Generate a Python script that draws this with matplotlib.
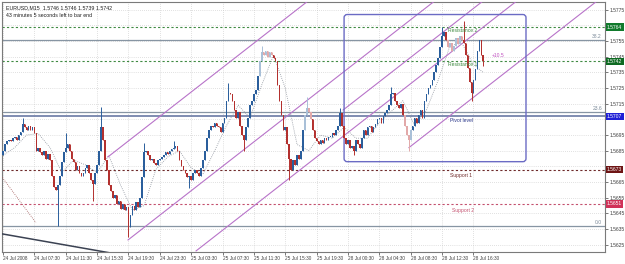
import matplotlib.pyplot as plt
from matplotlib.patches import FancyBboxPatch
import matplotlib.transforms as mtransforms

plt.rcParams['font.family'] = ['Liberation Sans', 'DejaVu Sans']

# EURUSD M15 closes, one per bar (open = previous close)
first_open = 1.5682
closes = [
    1.5685, 1.5689, 1.5691, 1.5692, 1.5691, 1.5693, 1.5694, 1.5692, 1.5695, 1.5697,
    1.5702, 1.5700, 1.5698, 1.5701, 1.5698, 1.5700, 1.5696, 1.5685, 1.5687, 1.5684,
    1.5682, 1.5685, 1.5680, 1.5683, 1.5679, 1.5669, 1.5662, 1.5660, 1.5663, 1.5669,
    1.5678, 1.5684, 1.5687, 1.5689, 1.5685, 1.5680, 1.5678, 1.5673, 1.5675, 1.5671,
    1.5669, 1.5671, 1.5674, 1.5676, 1.5671, 1.5666, 1.5664, 1.5671, 1.5676, 1.5685,
    1.5700, 1.5692, 1.5679, 1.5673, 1.5663, 1.5659, 1.5655, 1.5657, 1.5651, 1.5653,
    1.5648, 1.5651, 1.5647, 1.5649, 1.5636, 1.5644, 1.5650, 1.5647, 1.5652, 1.5649,
    1.5655, 1.5668, 1.5684, 1.5685, 1.5682, 1.5679, 1.5680, 1.5677, 1.5676, 1.5679,
    1.5680, 1.5681, 1.5682, 1.5684, 1.5683, 1.5685, 1.5686, 1.5687, 1.5688, 1.5685,
    1.5679, 1.5675, 1.5673, 1.5671, 1.5668, 1.5669, 1.5666, 1.5671, 1.5673, 1.5671,
    1.5669, 1.5674, 1.5679, 1.5685, 1.5693, 1.5698, 1.5701, 1.5700, 1.5703, 1.5701,
    1.5700, 1.5697, 1.5703, 1.5706, 1.5717, 1.5722, 1.5721, 1.5717, 1.5711, 1.5706,
    1.5710, 1.5701, 1.5695, 1.5692, 1.5700, 1.5706, 1.5714, 1.5717, 1.5721, 1.5724,
    1.5733, 1.5742, 1.5748, 1.5746, 1.5749, 1.5745, 1.5748, 1.5746, 1.5744, 1.5742,
    1.5727, 1.5717, 1.5708, 1.5698, 1.5700, 1.5689, 1.5680, 1.5673, 1.5679, 1.5676,
    1.5682, 1.5680, 1.5685, 1.5698, 1.5708, 1.5712, 1.5710, 1.5705, 1.5698, 1.5693,
    1.5691, 1.5689, 1.5692, 1.5690, 1.5693, 1.5692, 1.5694, 1.5694, 1.5696, 1.5695,
    1.5698, 1.5701, 1.5709, 1.5701, 1.5693, 1.5689, 1.5692, 1.5687, 1.5688, 1.5685,
    1.5692, 1.5689, 1.5687, 1.5693, 1.5698, 1.5695, 1.5700, 1.5701, 1.5697, 1.5700,
    1.5702, 1.5705, 1.5706, 1.5703, 1.5707, 1.5709, 1.5711, 1.5714, 1.5721, 1.5722,
    1.5717, 1.5714, 1.5712, 1.5715, 1.5708, 1.5701, 1.5695, 1.5692, 1.5698, 1.5701,
    1.5706, 1.5703, 1.5708, 1.5711, 1.5706, 1.5717, 1.5721, 1.5725, 1.5727, 1.5730,
    1.5735, 1.5740, 1.5744, 1.5751, 1.5758, 1.5761, 1.5756, 1.5751, 1.5754, 1.5749,
    1.5752, 1.5757, 1.5753, 1.5758, 1.5756, 1.5754, 1.5746, 1.5738, 1.5729, 1.5722,
    1.5730, 1.5737, 1.5749, 1.5756, 1.5746, 1.5742,
]

# bars with visible wicks beyond the body
high_idx = [10, 32, 50, 72, 87, 115, 132, 155, 172, 198, 224, 235]
high_val = [1.5706, 1.5696, 1.5713, 1.5690, 1.5691, 1.5728, 1.5752, 1.5719, 1.5712, 1.5726, 1.5764, 1.5768]
low_idx = [28, 46, 64, 95, 123, 146, 179, 207, 239, 245]
low_val = [1.5637, 1.5653, 1.5630, 1.5661, 1.5685, 1.5666, 1.5682, 1.5685, 1.5717, 1.5739]
pale_idx = [131, 132, 133, 134, 135, 136, 137, 154, 155, 156, 157, 205, 206, 207, 208,
            227, 228, 229, 230, 231, 232, 233, 234]

# dotted moving average
ma_idx = list(range(0, 241, 6)) + [245]
ma_val = [1.5682, 1.5687, 1.5695, 1.5696, 1.5687, 1.5671, 1.5679, 1.5676, 1.5671, 1.5682,
          1.5663, 1.5647, 1.5650, 1.5673, 1.5681, 1.5685, 1.5674, 1.5670, 1.5685, 1.5701,
          1.5714, 1.5706, 1.5727, 1.5746, 1.5725, 1.5689, 1.5685, 1.5695, 1.5693, 1.5700,
          1.5693, 1.5693, 1.5703, 1.5710, 1.5717, 1.5701, 1.5711, 1.5730, 1.5752, 1.5754,
          1.5740, 1.5735]

# parallel channel lines (start bar, start price), common slope per bar
chan_bar = [53.5, 63.8, 98.5, 173.5, 207.1]
chan_price = [1.5681, 1.5628, 1.5621, 1.5711, 1.5687]
chan_slope = 0.0000976

# horizontal levels
res2, res1, pivot, sup1, sup2 = 1.5764, 1.5742, 1.5707, 1.5673, 1.5651
fib_vals = [1.5756, 1.5710, 1.5637]
fib_names = ['38.2', '23.6', '0.0']

# box (bars, prices)
box_bars = [174, 266.8]
box_prices = [1.5678, 1.5772]

time_labels = ['24 Jul 2008', '24 Jul 07:30', '24 Jul 11:30', '24 Jul 15:30', '24 Jul 19:30',
               '24 Jul 23:30', '25 Jul 03:30', '25 Jul 07:30', '25 Jul 11:30', '25 Jul 15:30',
               '25 Jul 19:30', '28 Jul 00:30', '28 Jul 04:30', '28 Jul 08:30', '28 Jul 12:30',
               '28 Jul 16:30']
price_ticks = [1.5625, 1.5635, 1.5645, 1.5655, 1.5665, 1.5675, 1.5685, 1.5695, 1.5705,
               1.5715, 1.5725, 1.5735, 1.5745, 1.5755, 1.5765, 1.5775]
hidden_ticks = [1.5675, 1.5705, 1.5765]   # covered by the level boxes

fig = plt.figure(figsize=(6.25, 2.64), dpi=100)
ax = fig.add_axes([2 / 625, 12 / 264, 603 / 625, 250 / 264])
ax.set_xlim(-0.5, 307.1)
ax.set_ylim(1.56203, 1.57800)

# candles
opens = [first_open] + closes[:-1]
n = len(closes)
highs = [max(o, c) for o, c in zip(opens, closes)]
lows = [min(o, c) for o, c in zip(opens, closes)]
for i, v in zip(high_idx, high_val):
    highs[i] = v
for i, v in zip(low_idx, low_val):
    lows[i] = v

cols = []
for i in range(n):
    up = closes[i] >= opens[i]
    if i in pale_idx:
        cols.append('#a9c0d8' if up else '#e2a9a9')
    else:
        cols.append('#2a5e9c' if up else '#b3302e')

ax.vlines(range(n), lows, highs, colors=cols, lw=0.7, zorder=4)
bottoms = [min(o, c) for o, c in zip(opens, closes)]
heights = [max(abs(c - o), 0.00006) for o, c in zip(opens, closes)]
ax.bar(range(n), heights, bottom=bottoms, width=0.8, color=cols, lw=0, zorder=5)

# moving average
ax.plot(ma_idx, ma_val, color='#8c929c', lw=0.6, ls=(0, (1, 1.5)), zorder=3)

# channel lines
for b, p in zip(chan_bar, chan_price):
    ax.plot([b, 330], [p, p + (330 - b) * chan_slope], color='#b873c9', lw=0.8, zorder=3)

# trendlines at lower left
ax.plot([-1, 58], [1.5632, 1.5619], color='#3b4252', lw=1.1, zorder=3)
ax.plot([-1, 16.8], [1.5669, 1.5639], color='#a05a5a', lw=0.6, ls=(0, (1, 1.5)), zorder=3)

# levels
ax.axhline(res2, color='#3f8a42', lw=0.8, ls=(0, (2, 2)), zorder=2)
ax.axhline(res1, color='#3f8a42', lw=0.8, ls=(0, (2, 2)), zorder=2)
ax.axhline(sup1, color='#6e2a2a', lw=0.8, ls=(0, (2, 2)), zorder=2)
ax.axhline(sup2, color='#c4506e', lw=0.8, ls=(0, (2, 2)), zorder=2)
ax.axhline(pivot, color='#5d6d9c', lw=1.1, zorder=2)
for v, name in zip(fib_vals, fib_names):
    ax.axhline(v, color='#8795a3', lw=0.9, zorder=2)
    ax.text(305.5, v + 0.00003, name, fontsize=3.6, color='#7b8a99', ha='right', va='bottom')

ax.text(227, 1.5762, 'Resistance 2', fontsize=3.6, color='#3f8a42', va='center', zorder=6)
ax.text(227, 1.5740, 'Resistance 1', fontsize=3.6, color='#3f8a42', va='center', zorder=6)
ax.text(228, 1.5704, 'Pivot level', fontsize=3.6, color='#2e3a8c', va='center', zorder=6)
ax.text(228, 1.5669, 'Support 1', fontsize=3.6, color='#6e2a2a', va='center', zorder=6)
ax.text(229, 1.5647, 'Support 2', fontsize=3.6, color='#c4506e', va='center', zorder=6)
ax.text(249.5, 1.5746, '+10.5', fontsize=3.6, color='#c050c0', va='center', zorder=6)

# box
box = FancyBboxPatch((box_bars[0], box_prices[0]), box_bars[1] - box_bars[0],
                     box_prices[1] - box_prices[0],
                     boxstyle='round,pad=0,rounding_size=1.6', mutation_aspect=1.25e-4,
                     fc='none', ec='#6b6bc4', lw=1.0, zorder=3)
ax.add_patch(box)

# grid and axes
ax.set_xticks(range(0, 241, 16))
ax.set_xticklabels(time_labels, ha='left')
ax.set_yticks(price_ticks)
ax.set_yticklabels(['' if p in hidden_ticks else '%.4f' % p for p in price_ticks])
ax.yaxis.tick_right()
ax.tick_params(axis='y', length=2, width=0.5, pad=1.5, labelsize=3.6, colors='#404040')
ax.tick_params(axis='x', length=2, width=0.5, pad=1, labelsize=3.4, colors='#404040')
ax.grid(True, color='#c4c4c4', lw=0.5, ls=(0, (1, 2)), zorder=0)
ax.set_axisbelow(True)
for s in ax.spines.values():
    s.set_color('#7a7a7a')
    s.set_linewidth(0.8)

# price boxes on the right axis
trans = mtransforms.blended_transform_factory(ax.transAxes, ax.transData)
for v, fc in [(res2, '#117a2c'), (res1, '#0e6a22'), (pivot, '#1f1fd6'),
              (sup1, '#6e1414'), (sup2, '#d03258')]:
    ax.text(1.0035, v, '%.4f' % v, transform=trans, fontsize=3.6, color='white',
            va='center', ha='left', clip_on=False, zorder=10,
            bbox=dict(boxstyle='square,pad=0.25', fc=fc, ec='none'))

# header
ax.text(0.007, 0.985, 'EURUSD,M15  1.5746 1.5746 1.5739 1.5742', transform=ax.transAxes,
        fontsize=3.8, color='#202020', va='top', ha='left')
ax.text(0.007, 0.955, '43 minutes 5 seconds left to bar end', transform=ax.transAxes,
        fontsize=3.8, color='#202020', va='top', ha='left')

fig.savefig('out.png', dpi=100)
